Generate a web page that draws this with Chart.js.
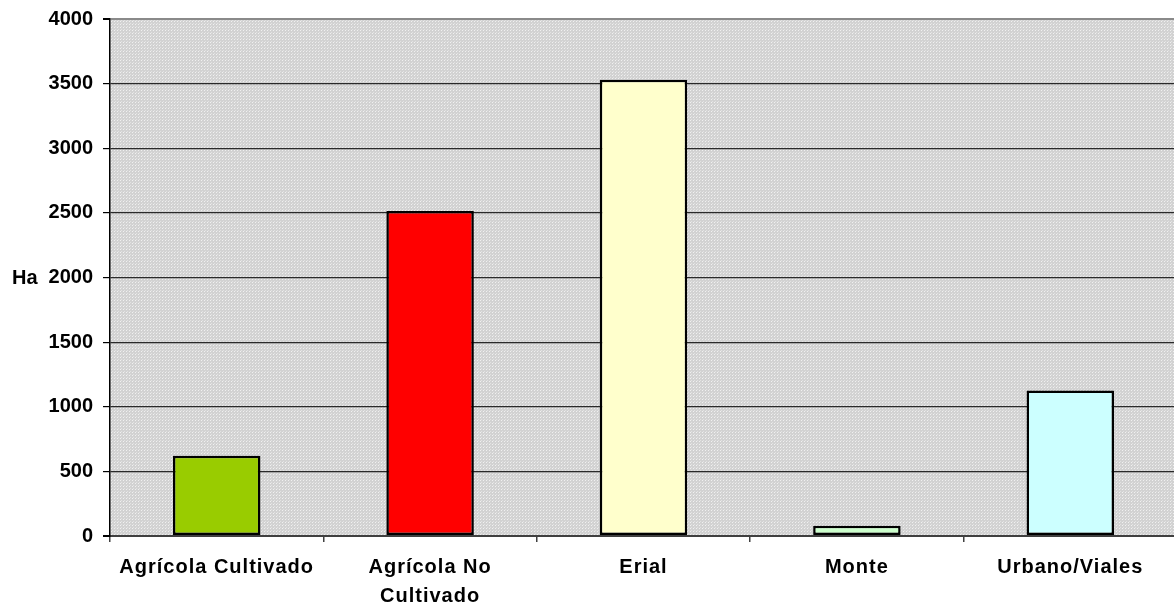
<!DOCTYPE html>
<html lang="es">
  <head>
    <meta charset="UTF-8" />
    <title>Superficie por uso del suelo (Ha)</title>
    <style>
      html, body {
        margin: 0;
        padding: 0;
        background: #ffffff;
        overflow: hidden;
      }
      .chart-box {
        width: 1177px;
        height: 612px;
      }
    </style>
    <script src="https://cdn.jsdelivr.net/npm/chart.js"></script>
  </head>
  <body>
    <div class="chart-box">
      <canvas id="usoChart"></canvas>
    </div>

    <script>
      const categories = [
        "Agrícola Cultivado",
        ["Agrícola No", "Cultivado"],
        "Erial",
        "Monte",
        "Urbano/Viales",
      ];
      const hectares = [620, 2515, 3530, 80, 1125];
      const barColors = ["#99cc00", "#ff0000", "#ffffcc", "#ccffcc", "#ccffff"];
      const yTicks = [0, 500, 1000, 1500, 2000, 2500, 3000, 3500, 4000];
      const yTitle = "Ha";

      const FONT = "'Liberation Sans', Arial, sans-serif";

      // dotted grey fill like the old spreadsheet plot area
      function makePattern(ctx) {
        const p = document.createElement("canvas");
        p.width = 3;
        p.height = 3;
        const pc = p.getContext("2d");
        pc.fillStyle = "#d2d2d2";
        pc.fillRect(0, 0, 3, 3);
        pc.fillStyle = "#f0f0f0";
        pc.fillRect(0, 0, 1, 1);
        pc.fillStyle = "#e2e2e2";
        pc.fillRect(1, 2, 1, 1);
        return ctx.createPattern(p, "repeat");
      }

      const plotBackground = {
        id: "plotBackground",
        beforeDraw(chart) {
          const { ctx, chartArea } = chart;
          ctx.save();
          ctx.fillStyle = "#ffffff";
          ctx.fillRect(0, 0, chart.width, chart.height);
          ctx.fillStyle = makePattern(ctx);
          ctx.fillRect(
            chartArea.left,
            chartArea.top,
            chartArea.right - chartArea.left,
            chartArea.bottom - chartArea.top
          );
          ctx.restore();
        },
        afterDraw(chart) {
          const { ctx, chartArea } = chart;
          ctx.save();
          ctx.font = "bold 20px " + FONT;
          ctx.fillStyle = "#000000";
          ctx.textAlign = "left";
          ctx.textBaseline = "middle";
          ctx.fillText(yTitle, 12, (chartArea.top + chartArea.bottom) / 2 + 1);
          ctx.restore();
        },
      };

      // category labels have a little extra letter spacing
      const spacedLabels = {
        id: "spacedLabels",
        afterLayout(chart) {
          const xs = chart.scales.x;
          if (xs._spaced) return;
          const orig = xs.drawLabels.bind(xs);
          xs.drawLabels = function (area) {
            const ctx = this.ctx;
            const prev = ctx.letterSpacing;
            ctx.letterSpacing = "1px";
            orig(area);
            ctx.letterSpacing = prev;
          };
          xs._spaced = true;
        },
      };

      new Chart(document.getElementById("usoChart").getContext("2d"), {
        type: "bar",
        data: {
          labels: categories,
          datasets: [
            {
              label: yTitle,
              data: hectares,
              backgroundColor: barColors,
              borderColor: "#000000",
              borderWidth: 2.5,
              borderSkipped: false,
              categoryPercentage: 1.0,
              barPercentage: 0.41,
            },
          ],
        },
        options: {
          responsive: true,
          maintainAspectRatio: false,
          animation: false,
          layout: {
            padding: { top: 19, right: 0, bottom: 0, left: 0 },
          },
          plugins: {
            legend: { display: false },
            tooltip: { enabled: false },
          },
          scales: {
            x: {
              offset: true,
              grid: {
                offset: true,
                drawOnChartArea: false,
                tickLength: 6,
                tickColor: "#404040",
                lineWidth: 1.5,
              },
              border: { color: "#404040", width: 2 },
              ticks: {
                color: "#000000",
                padding: 11,
                maxRotation: 0,
                autoSkip: false,
                font: { family: FONT, size: 20, weight: "bold", lineHeight: 1.45 },
              },
              afterFit(scale) {
                scale.height = 76;
              },
            },
            y: {
              min: 0,
              max: 4000,
              afterBuildTicks(scale) {
                scale.ticks = yTicks.map((v) => ({ value: v }));
              },
              grid: {
                color(ctx) {
                  if (ctx.tick && ctx.tick.value === 4000) return "#8a8a8a";
                  if (ctx.tick && ctx.tick.value === 0) return "#404040";
                  return "#2a2a2a";
                },
                lineWidth(ctx) {
                  return ctx.tick && (ctx.tick.value === 4000 || ctx.tick.value === 0) ? 2 : 1.2;
                },
                tickColor: "#000000",
                tickLength: 7,
              },
              border: { color: "#000000", width: 1.5 },
              ticks: {
                color: "#000000",
                padding: 10,
                font: { family: FONT, size: 20, weight: "bold", lineHeight: 0.9 },
                callback: (value) => String(value),
              },
              afterFit(scale) {
                scale.width = 110;
              },
            },
          },
        },
        plugins: [plotBackground, spacedLabels],
      });
    </script>
  </body>
</html>
